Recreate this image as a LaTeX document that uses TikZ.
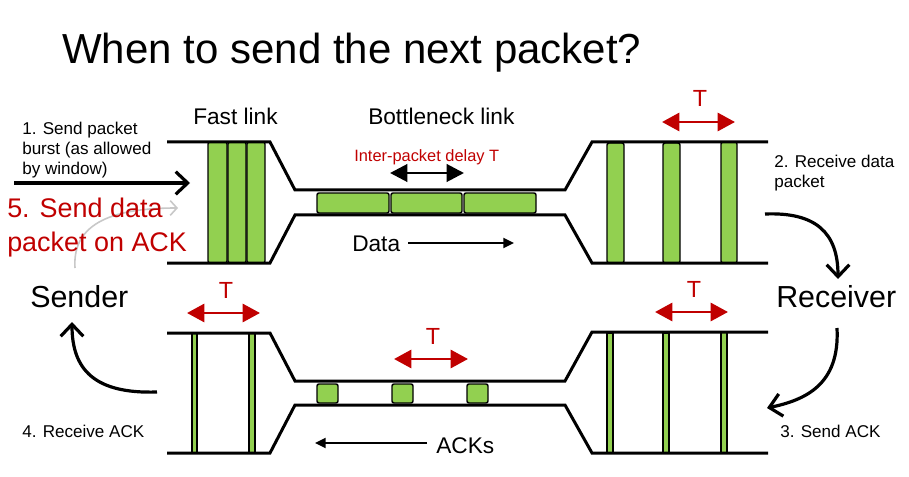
\documentclass[tikz,border=0pt]{standalone}
\usepackage{fontspec}
\setmainfont{Liberation Sans}
\usetikzlibrary{arrows.meta}
\definecolor{pgreen}{HTML}{92D050}
\definecolor{pred}{HTML}{C00000}
\definecolor{lgray}{HTML}{C8C8C8}
\begin{document}
\begin{tikzpicture}[x=0.75pt,y=-0.75pt,
  pipe/.style={line width=2.25pt, line join=miter},
  pkt/.style={draw=black, line width=1.1pt, fill=pgreen, rounded corners=1.5pt},
  ackbar/.style={draw=black, line width=0.9pt, fill=pgreen},
  tarrow/.style={draw=pred, line width=2.2pt, {Triangle[length=13pt,width=13.5pt]}-{Triangle[length=13pt,width=13.5pt]}},
  barb/.style={line width=2.4pt, -{Straight Barb[length=9pt,width=17pt,line width=2.4pt]}},
  thinarrow/.style={line width=1.6pt, -{Triangle[length=8pt,width=7.5pt]}},
  lbl/.style={inner sep=0pt, anchor=base west},
  small/.style={lbl, font=\fontsize{12.8}{15.2}\selectfont},
  mid/.style={lbl, font=\fontsize{17}{20}\selectfont},
  big/.style={lbl, font=\fontsize{22.8}{27}\selectfont},
  tlbl/.style={inner sep=0pt, anchor=base, text=pred, font=\fontsize{17.5}{20}\selectfont},
]
\useasboundingbox (0,0) rectangle (909,477);

% ---- top pipe packets ----
\draw[pkt] (208,142) rectangle (227,263);
\draw[pkt] (228,142) rectangle (246,263);
\draw[pkt] (247,142) rectangle (265,263);
\draw[pkt] (317,193) rectangle (389,213);
\draw[pkt] (391,193) rectangle (462,213);
\draw[pkt] (464,193) rectangle (536,213);
\draw[pkt] (607,143) rectangle (624,263);
\draw[pkt] (663,143) rectangle (680,263);
\draw[pkt] (721,142) rectangle (737,263);

% ---- bottom pipe acks ----
\draw[ackbar] (192,333) rectangle (197,453);
\draw[ackbar] (249,333) rectangle (255,453);
\draw[pkt] (317,384) rectangle (338,403);
\draw[pkt] (392,384) rectangle (413,403);
\draw[pkt] (467,384) rectangle (488,403);
\draw[ackbar] (607,333) rectangle (613,453);
\draw[ackbar] (663,333) rectangle (669,453);
\draw[ackbar] (721,332) rectangle (727,453);

% ---- pipes ----
\draw[pipe] (167,142) -- (270,142) -- (295,190) -- (565,190) -- (592,142) -- (768,142);
\draw[pipe] (167,263) -- (270,263) -- (295,215) -- (565,215) -- (592,263) -- (768,263);
\draw[pipe] (167,333) -- (270,333) -- (295,381) -- (565,381) -- (592,332) -- (768,332);
\draw[pipe] (167,453) -- (270,453) -- (295,405) -- (565,405) -- (592,453) -- (768,453);

% ---- texts ----
\node[lbl, font=\fontsize{31.5}{36}\selectfont] (title) at (62,64) {When to send the next packet?};
\node[mid] (fast) at (193,125) {Fast link};
\node[mid] (bneck) at (368,125) {Bottleneck link};
\node[lbl, text=pred, font=\fontsize{12.3}{15}\selectfont] (ipd) at (354,162) {Inter-packet delay T};
\node[mid] (data) at (352,252) {Data};
\node[mid] (acks) at (436,453) {ACKs};
\node[small] (s1a) at (22,135) {1. Send packet};
\node[small] (s1b) at (22,155) {burst (as allowed};
\node[small] (s1c) at (22,175) {by window)};
\node[small] (s2a) at (774,168) {2. Receive data};
\node[small] (s2b) at (774,188) {packet};
\node[small] (s3) at (780,437) {3. Send ACK};
\node[small] (s4) at (22,437) {4. Receive ACK};
\node[big] (sender) at (30,307) {Sender};
\node[big] (receiver) at (776,307) {Receiver};

% gray arrow (behind red text)
\coordinate (g0) at (75,268);
\coordinate (g1) at (178,208);
\draw[lgray, line width=1.2pt, -{Straight Barb[length=5pt,width=11pt,line width=1.2pt]}] (g0) .. controls (72,222) and (115,208) .. (g1);

\node[lbl, text=pred, font=\fontsize{20.2}{24}\selectfont] (s5a) at (7,218) {5. Send data};
\node[lbl, text=pred, font=\fontsize{20.2}{24}\selectfont] (s5b) at (7,251) {packet on ACK};

% T labels
\node[tlbl] (t1) at (700,107) {T};
\node[tlbl] (t2) at (226,298) {T};
\node[tlbl] (t3) at (433,344) {T};
\node[tlbl] (t4) at (694,297) {T};

% ---- arrows ----
\coordinate (ta1) at (662,122); \coordinate (tb1) at (735,122);
\draw[tarrow] (ta1) -- (tb1);
\coordinate (ta2) at (187,313); \coordinate (tb2) at (260,313);
\draw[tarrow] (ta2) -- (tb2);
\coordinate (ta3) at (394,359); \coordinate (tb3) at (468,359);
\draw[tarrow] (ta3) -- (tb3);
\coordinate (ta4) at (655,312); \coordinate (tb4) at (728,312);
\draw[tarrow] (ta4) -- (tb4);

\coordinate (ia) at (390,173); \coordinate (ib) at (464,173);
\draw[line width=2.2pt, {Triangle[length=13pt,width=13pt]}-{Triangle[length=13pt,width=13pt]}] (ia) -- (ib);

\coordinate (da) at (408,243); \coordinate (db) at (514,243);
\draw[thinarrow] (da) -- (db);
\coordinate (aa) at (427,443); \coordinate (ab) at (315,443);
\draw[thinarrow] (aa) -- (ab);

\coordinate (b0) at (14,183); \coordinate (b1) at (190,183);
\draw[barb] (b0) -- (b1);

\coordinate (r0) at (765,214); \coordinate (r1) at (838,279);
\draw[barb] (r0) .. controls (815,212) and (838,232) .. (r1);

\coordinate (k0) at (837,328); \coordinate (k1) at (767,408);
\draw[barb] (k0) .. controls (840,385) and (805,400) .. (k1);

\coordinate (q0) at (157,392); \coordinate (q1) at (72,322);
\draw[barb] (q0) .. controls (95,394) and (72,370) .. (q1);
\end{tikzpicture}
\end{document}
